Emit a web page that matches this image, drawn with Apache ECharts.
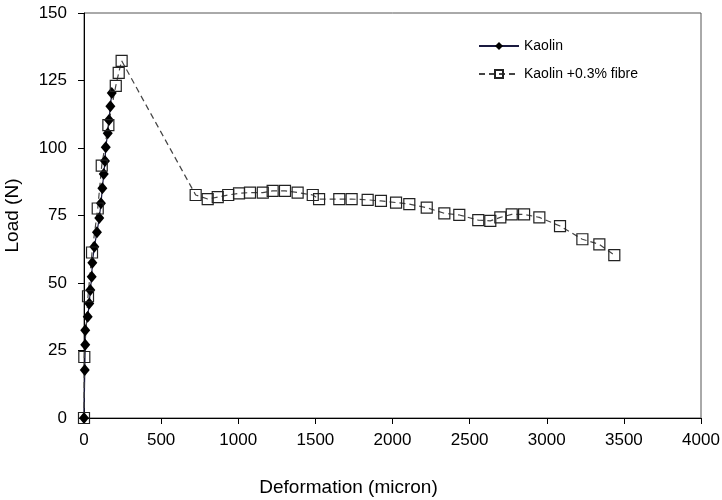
<!DOCTYPE html>
<html>
<head>
<meta charset="utf-8">
<script src="https://cdn.jsdelivr.net/npm/echarts@6/dist/echarts.min.js"></script>
<style>
  html, body { margin: 0; padding: 0; background: #fff; }
  #chart { width: 722px; height: 500px; }
</style>
</head>
<body>
<div id="chart"></div>
<script>
// Kaolin (diamonds, solid line)
var kaolinX = [0, 5, 8, 8, 24, 34, 41, 50, 54, 67, 84, 99, 110, 119, 128, 136, 141, 154, 162, 171, 180];
var kaolinLoad = [0, 17.8, 27.1, 32.5, 37.5, 42.4, 47.4, 52.3, 57.5, 63.4, 68.8, 74.1, 79.5, 85.1, 90.4, 95.2, 100.3, 105.5, 110.4, 115.5, 120.4];

// Kaolin +0.3% fibre (squares, dashed line)
var fibreX = [0, 2, 26, 52, 89, 115, 158, 206, 225, 244,
  724, 802, 867, 935, 1005, 1076, 1159, 1223, 1303, 1385, 1483, 1524, 1655, 1735, 1839, 1925,
  2023, 2109, 2222, 2336, 2433, 2556, 2634, 2699, 2773, 2853, 2952, 3086, 3231, 3341, 3438];
var fibreLoad = [0, 22.6, 45.1, 61.3, 77.6, 93.5, 108.5, 123.0, 127.8, 132.3,
  82.6, 81.1, 81.8, 82.6, 83.2, 83.5, 83.5, 84.1, 84.1, 83.5, 82.6, 81.1, 81.1, 81.1, 80.8, 80.4,
  79.8, 79.2, 77.9, 75.8, 75.2, 73.3, 73.0, 74.3, 75.4, 75.4, 74.3, 71.1, 66.2, 64.3, 60.3];

function pairs(xs, ys) {
  return xs.map(function (x, i) { return [x, ys[i]]; });
}

var font = 'Arial, "Liberation Sans", sans-serif';
var chart = echarts.init(document.getElementById('chart'));
chart.setOption({
  animation: false,
  textStyle: { fontFamily: font },
  grid: {
    left: 84, right: 21, top: 13, bottom: 82,
    containLabel: false,
    outerBoundsMode: 'none',
    show: true, borderColor: '#555', borderWidth: 1
  },
  legend: {
    orient: 'vertical',
    left: 473, top: 34,
    itemWidth: 40, itemHeight: 10, itemGap: 14,
    textStyle: { fontSize: 14, color: '#000', fontFamily: font },
    data: ['Kaolin', 'Kaolin +0.3% fibre']
  },
  xAxis: {
    type: 'value',
    min: 0, max: 4000, interval: 500,
    name: 'Deformation (micron)',
    nameLocation: 'middle',
    nameGap: 60,
    nameTextStyle: { fontSize: 19, color: '#000', padding: [0, 88, 0, 0] },
    axisLine: { lineStyle: { color: '#000' } },
    axisTick: { inside: false, length: 6, lineStyle: { color: '#000' } },
    axisLabel: { fontSize: 17, color: '#000', margin: 14, formatter: function (v) { return String(v); } },
    splitLine: { show: false }
  },
  yAxis: {
    type: 'value',
    min: 0, max: 150, interval: 25,
    name: 'Load (N)',
    nameLocation: 'middle',
    nameGap: 62,
    nameTextStyle: { fontSize: 19, color: '#000' },
    axisLine: { show: true, lineStyle: { color: '#000' } },
    axisTick: { show: true, inside: false, length: 6, lineStyle: { color: '#000' } },
    axisLabel: { fontSize: 17, color: '#000', margin: 17 },
    splitLine: { show: false }
  },
  series: [
    {
      name: 'Kaolin',
      type: 'line',
      data: pairs(kaolinX, kaolinLoad),
      symbol: 'diamond',
      symbolSize: [10, 12],
      itemStyle: { color: '#000' },
      lineStyle: { color: '#1a1a40', width: 1.2 }
    },
    {
      name: 'Kaolin +0.3% fibre',
      type: 'line',
      data: pairs(fibreX, fibreLoad),
      symbol: 'rect',
      symbolSize: 11,
      itemStyle: { color: 'transparent', borderColor: '#222', borderWidth: 1.2 },
      lineStyle: { color: '#444', width: 1.2, type: [6, 4] }
    }
  ]
});
</script>
</body>
</html>
